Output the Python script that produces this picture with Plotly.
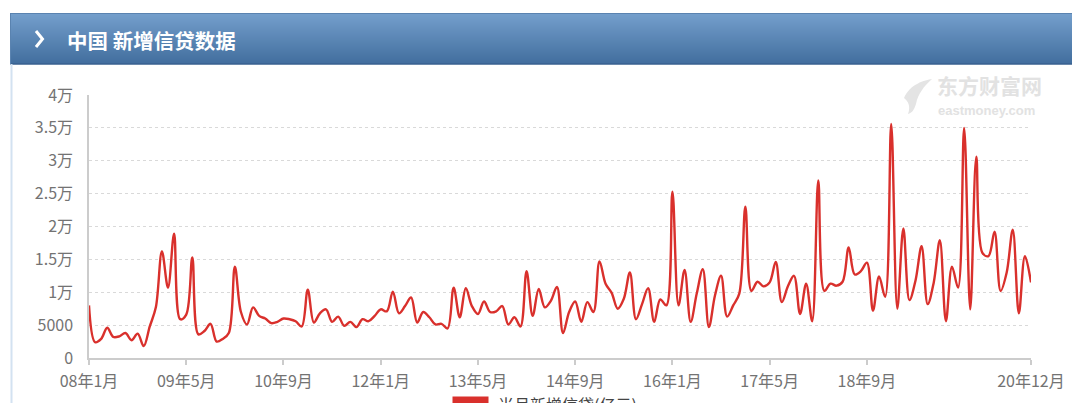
import plotly.graph_objects as go

# ---------------- data (亿元) ----------------
years = list(range(8, 21))
loans_2008 = [8000, 2400, 2900, 4600, 3200, 3300, 3800, 2700, 3700, 1800, 4800, 7700]
loans_2009 = [16200, 10700, 18900, 5900, 6600, 15300, 3600, 4100, 5200, 2500, 2900, 3800]
loans_2010 = [13900, 7000, 5100, 7700, 6400, 6000, 5300, 5500, 6000, 5900, 5600, 4800]
loans_2011 = [10400, 5400, 6800, 7400, 5500, 6300, 4900, 5500, 4700, 5900, 5600, 6400]
loans_2012 = [7400, 7100, 10100, 6800, 7900, 9200, 5400, 7000, 6200, 5100, 5200, 4500]
loans_2013 = [10700, 6200, 10600, 7900, 6700, 8600, 7000, 7100, 7900, 5100, 6200, 4800]
loans_2014 = [13200, 6400, 10500, 7700, 8700, 10800, 3800, 7000, 8600, 5500, 8500, 7000]
loans_2015 = [14700, 11300, 9900, 7500, 9000, 13000, 5900, 8200, 10600, 5500, 8900, 8000]
loans_2016 = [25300, 8000, 13400, 5500, 9800, 13500, 4700, 9500, 12500, 6300, 8000, 9800]
loans_2017 = [23000, 10200, 11600, 10900, 11500, 14600, 8500, 10900, 12500, 6700, 11300, 5600]
loans_2018 = [27000, 10200, 11300, 11000, 11600, 16800, 12700, 13200, 14500, 7200, 12400, 9300]
loans_2019 = [35600, 7500, 19700, 8800, 11800, 17000, 8200, 11500, 17900, 5600, 13900, 10700]
loans_2020 = [35000, 7400, 30600, 16000, 15500, 19200, 10200, 13000, 19500, 6800, 15500, 11500]

loans = (loans_2008 + loans_2009 + loans_2010 + loans_2011 + loans_2012 + loans_2013
         + loans_2014 + loans_2015 + loans_2016 + loans_2017 + loans_2018 + loans_2019
         + loans_2020)
months = [f"{y:02d}年{m}月" for y in years for m in range(1, 13)]

x_tick_labels = ["08年1月", "09年5月", "10年9月", "12年1月", "13年5月",
                 "14年9月", "16年1月", "17年5月", "18年9月", "20年12月"]
y_tick_values = [0, 5000, 10000, 15000, 20000, 25000, 30000, 35000, 40000]
y_tick_labels = ["0", "5000", "1万", "1.5万", "2万", "2.5万", "3万", "3.5万", "4万"]

title_text = "中国 新增信贷数据"
series_name = "当月新增信贷(亿元)"

# ---------------- figure ----------------
W, H = 1080, 403
OFF = 8  # page body margin of the html page; positions below are screen pixels


def px(x):
    return (x - OFF) / W


def py(y):
    return 1 - (y - OFF) / H


LINE_RED = "#d9302c"
FONT = "Noto Sans CJK SC, Noto Sans, sans-serif"

fig = go.Figure()
fig.add_trace(go.Scatter(
    x=months, y=loans, mode="lines", name=series_name,
    line=dict(color=LINE_RED, width=2.4, shape="spline", smoothing=1.0),
    showlegend=False, hoverinfo="x+y",
))

shapes = []
# header gradient bar
top, bot = 13, 64
c_top = (116, 159, 204)
c_bot = (66, 110, 158)
n = bot - top
for i in range(n):
    t = i / (n - 1)
    c = tuple(int(round(a + (b - a) * t)) for a, b in zip(c_top, c_bot))
    shapes.append(dict(type="rect", xref="paper", yref="paper",
                       x0=px(10), x1=px(1090), y0=py(top + i), y1=py(min(top + i + 1.6, bot)),
                       line=dict(width=0), fillcolor=f"rgb{c}", layer="below"))
# header borders
shapes.append(dict(type="line", xref="paper", yref="paper", x0=px(10), x1=px(1090),
                   y0=py(13.5), y1=py(13.5), line=dict(color="#5a83b0", width=1)))
shapes.append(dict(type="line", xref="paper", yref="paper", x0=px(10), x1=px(1090),
                   y0=py(64), y1=py(64), line=dict(color="#39618f", width=1.5)))
shapes.append(dict(type="line", xref="paper", yref="paper", x0=px(10.5), x1=px(10.5),
                   y0=py(13), y1=py(64), line=dict(color="#5a83b0", width=1)))
# panel left border
shapes.append(dict(type="line", xref="paper", yref="paper", x0=px(11.5), x1=px(11.5),
                   y0=py(64), y1=py(410), line=dict(color="#d3e2f1", width=2)))
# chevron
shapes.append(dict(type="path", xref="paper", yref="paper",
                   path=f"M {px(36)},{py(31)} L {px(42.5)},{py(39)} L {px(36)},{py(47)}",
                   line=dict(color="white", width=3)))
# legend swatch (cut off by the bottom edge)
shapes.append(dict(type="rect", xref="paper", yref="paper",
                   x0=px(452.5), x1=px(488.5), y0=py(396.5), y1=py(412),
                   line=dict(width=0), fillcolor=LINE_RED))
# watermark logo (swoosh)
shapes.append(dict(type="path", xref="paper", yref="paper",
                   path=(f"M {px(904)},{py(98)} C {px(910)},{py(84)} {px(925)},{py(80)} {px(932)},{py(79)} "
                         f"C {px(924)},{py(86)} {px(918)},{py(94)} {px(916)},{py(104)} "
                         f"C {px(914)},{py(110)} {px(912)},{py(113)} {px(908)},{py(114)} "
                         f"C {px(911)},{py(106)} {px(908)},{py(101)} {px(904)},{py(98)} Z"),
                   line=dict(width=0), fillcolor="#e4e4e4", layer="below"))

annotations = [
    dict(text=f"<b>{title_text}</b>", x=px(65), y=py(40), xref="paper", yref="paper",
         xanchor="left", yanchor="middle", showarrow=False,
         font=dict(family=FONT, size=20.5, color="white")),
    dict(text=series_name, x=px(497), y=py(391), xref="paper", yref="paper",
         xanchor="left", yanchor="top", showarrow=False, borderpad=0,
         font=dict(family=FONT, size=16, color="#444")),
    dict(text="<b>东方财富网</b>", x=px(936), y=py(101), xref="paper", yref="paper",
         xanchor="left", yanchor="bottom", showarrow=False, borderpad=0,
         font=dict(family=FONT, size=21, color="#e2e2e2")),
    dict(text="<b>eastmoney.com</b>", x=px(937), y=py(102), xref="paper", yref="paper",
         xanchor="left", yanchor="top", showarrow=False, borderpad=0,
         font=dict(family="Arial, Liberation Sans, sans-serif", size=13, color="#e2e2e2")),
]

fig.update_layout(
    width=W, height=H,
    margin=dict(l=0, r=0, t=0, b=0, pad=0, autoexpand=False),
    paper_bgcolor="white", plot_bgcolor="white",
    shapes=shapes, annotations=annotations,
    showlegend=False,
    xaxis=dict(
        domain=[px(89), px(1031)],
        type="category", categoryorder="array", categoryarray=months,
        range=[0, len(months) - 1],
        tickmode="array", tickvals=x_tick_labels, ticktext=x_tick_labels,
        ticks="outside", ticklen=5, tickcolor="#cccccc", tickwidth=1.5,
        showline=True, linecolor="#cccccc", linewidth=1.5,
        showgrid=False, zeroline=False, automargin=False,
        tickfont=dict(family=FONT, size=16, color="#737373"),
        ticklabelstandoff=3,
    ),
    yaxis=dict(
        domain=[py(358), py(95)],
        range=[0, 40000],
        tickmode="array", tickvals=y_tick_values, ticktext=y_tick_labels,
        ticks="", showline=True, linecolor="#cccccc", linewidth=1.5,
        showgrid=True, gridcolor="#d9d9d9", gridwidth=1, griddash="3px,3px",
        zeroline=False, automargin=False,
        tickfont=dict(family=FONT, size=16, color="#737373"),
        ticklabelstandoff=11,
    ),
)

fig.write_html("out.html")
